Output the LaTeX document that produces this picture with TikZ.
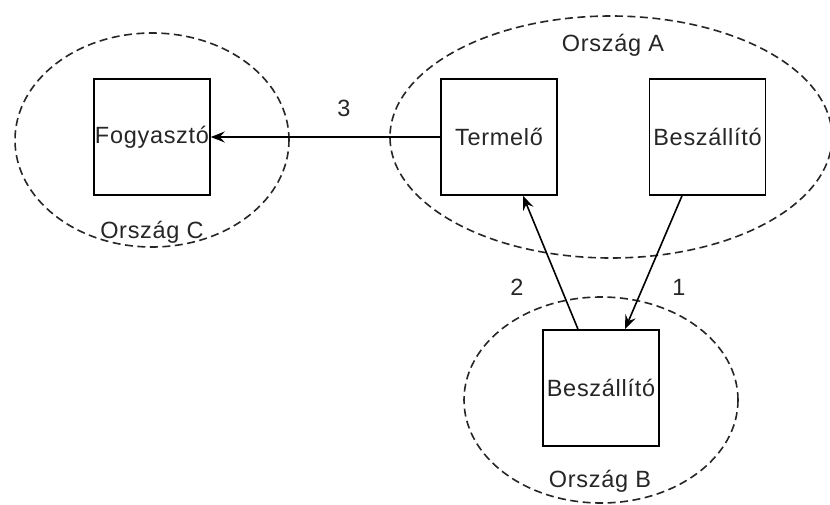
\documentclass[tikz,border=0pt]{standalone}
\usepackage{fontspec}
\setmainfont{Liberation Sans}
\newfontfamily\diagfont[LetterSpace=3]{Liberation Sans}
\usetikzlibrary{shapes.geometric,arrows.meta}
\begin{document}
\begin{tikzpicture}[x=1pt,y=-1pt,
  country/.style={draw=black!85, ellipse, dash pattern=on 8pt off 4.5pt, line width=1.6pt, inner sep=0pt},
  actor/.style={draw, line width=1.6pt, minimum width=116pt, minimum height=116pt, inner sep=0pt, font=\diagfont\fontsize{23.5}{28}\selectfont, text=black!85, fill=white},
  lbl/.style={font=\diagfont\fontsize{23.5}{28}\selectfont, text=black!85, inner sep=0pt},
  flow/.style={line width=1.6pt, -{Stealth[length=14pt,width=11pt,inset=5pt]}}]
\useasboundingbox (0,0) rectangle (830,504);
\fill[white] (0,0) rectangle (830,504);
\node[country, minimum width=274pt, minimum height=214pt] (C) at (152,140) {};
\node[country, minimum width=442pt, minimum height=242pt] (A) at (611,137) {};
\node[country, minimum width=274pt, minimum height=206pt] (B) at (601,400) {};
\node[actor] (fog) at (152,137) {Fogyasztó};
\node[actor] (term) at (499,137) {Termelő};
\node[actor] (beszA) at (707.5,137) {Beszállító};
\node[actor] (beszB) at (601,388) {Beszállító};
\node[lbl] (lA) at (613,45) {Ország A};
\node[lbl] (lC) at (152,232) {Ország C};
\node[lbl] (lB) at (600,481) {Ország B};
\node[lbl] (n3) at (344,108) {3};
\node[lbl] (n2) at (517,287) {2};
\node[lbl] (n1) at (679,287) {1};
\draw[flow] (term.west) -- (fog.east);
\draw[flow] ([xshift=-25.5pt]beszA.south) -- ([xshift=24pt]beszB.north);
\draw[flow] ([xshift=-23pt]beszB.north) -- ([xshift=24pt]term.south);
\end{tikzpicture}
\end{document}
